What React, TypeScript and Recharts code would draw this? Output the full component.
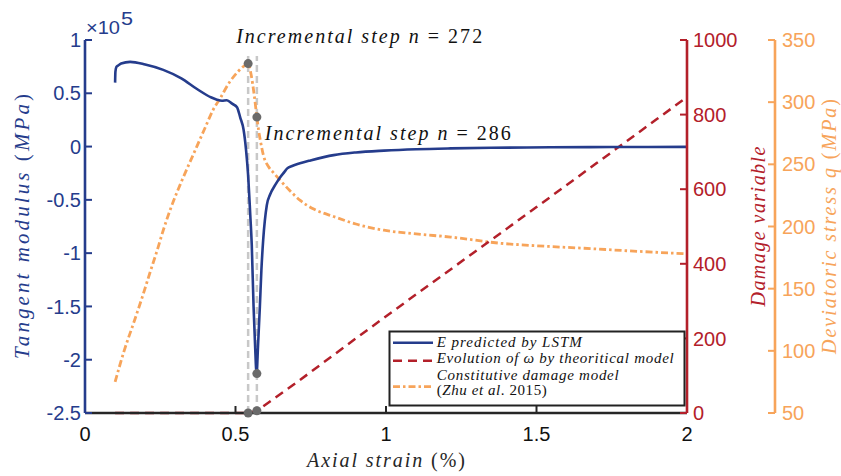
import React from "react";
import { ComposedChart, Line, XAxis, YAxis, ReferenceLine, ReferenceDot } from "recharts";

// Tangent modulus predicted by LSTM (x10^5 MPa)
const strainE = [
  0.1, 0.101, 0.104, 0.11, 0.12, 0.15, 0.2, 0.26, 0.32, 0.372, 0.42, 0.438, 0.455, 0.471, 0.49,
  0.505, 0.516, 0.527, 0.535, 0.542, 0.549, 0.554, 0.56, 0.565, 0.57, 0.575, 0.581, 0.586, 0.592,
  0.604, 0.615, 0.632, 0.648, 0.662, 0.672, 0.688, 0.714, 0.749, 0.826, 0.9, 0.993, 1.1, 1.215,
  1.35, 1.547, 1.75, 2.0,
];
const modulusE = [
  0.6, 0.7, 0.745, 0.76, 0.78, 0.795, 0.77, 0.72, 0.64, 0.54, 0.46, 0.44, 0.43, 0.435, 0.4,
  0.37, 0.27, 0.156, -0.03, -0.27, -0.64, -0.92, -1.5, -1.86, -2.13, -1.86, -1.5, -1.16, -0.876,
  -0.55, -0.45, -0.36, -0.29, -0.24, -0.205, -0.182, -0.157, -0.13, -0.08, -0.055, -0.038, -0.025,
  -0.017, -0.011, -0.007, -0.004, -0.003,
];

// Constitutive damage model (deviatoric stress, MPa)
const strainQ = [
  0.1, 0.13, 0.161, 0.19, 0.216, 0.24, 0.26, 0.29, 0.322, 0.36, 0.4, 0.426, 0.449, 0.48, 0.51,
  0.528, 0.542, 0.552, 0.562, 0.571, 0.577, 0.582, 0.593, 0.61, 0.627, 0.649, 0.68, 0.715, 0.76,
  0.826, 0.9, 0.993, 1.1, 1.215, 1.381, 1.5, 1.658, 1.8, 2.0,
];
const stressQ = [
  75, 100, 122, 143, 163, 181, 197, 218, 237, 258, 280, 294, 303, 316, 325,
  329, 331, 322, 306, 288, 277, 270, 257, 248, 243, 237, 229, 221, 214,
  208, 202, 197, 194, 191.5, 186.5, 184.5, 182.5, 180.5, 178,
];

// Evolution of omega by theoretical model
const strainD = [0.1, 0.542, 0.571, 0.7, 0.9, 1.1, 1.3, 1.5, 1.7, 1.9, 2.0];
const damageD = [0, 0, 6, 80, 200, 318, 435, 552, 670, 788, 847];

const xTicks = [0, 0.5, 1, 1.5, 2];
const eTicks = [-2.5, -2, -1.5, -1, -0.5, 0, 0.5, 1];
const dTicks = [0, 200, 400, 600, 800, 1000];
const qTicks = [50, 100, 150, 200, 250, 300, 350];

// incremental steps n = 272 and n = 286
const stepN = [272, 286];
const stepStrain = [0.542, 0.571];
const stepStress = [331, 288];
const stepDamage = [0, 6];
const minModulus = -2.13;

const eData = strainE.map((x, i) => ({ x, e: modulusE[i] }));
const qData = strainQ.map((x, i) => ({ x, q: stressQ[i] }));
const dData = strainD.map((x, i) => ({ x, d: damageD[i] }));

const SANS = "'Liberation Sans', Arial, sans-serif";
const SERIF = "'Liberation Serif', 'Times New Roman', serif";
const BLUE = "#253C8C";
const RED = "#B3202A";
const ORANGE = "#F7A45A";
const BLACK = "#262626";
const GRAY_LINE = "#C8C8C8";
const GRAY_DOT = "#6A6A6A";

type Part = [string, boolean];

function MathText(props: {
  x: number;
  y: number;
  parts: Part[];
  length: number;
  size: number;
  fill: string;
  anchor?: "start" | "middle" | "end";
  rotate?: boolean;
}) {
  const { x, y, parts, length, size, fill, anchor = "start", rotate } = props;
  return (
    <text
      x={x}
      y={y}
      fill={fill}
      fontFamily={SERIF}
      fontSize={size}
      textAnchor={anchor}
      textLength={length}
      lengthAdjust="spacing"
      transform={rotate ? `rotate(-90 ${x} ${y})` : undefined}
    >
      {parts.map(([t, it], i) => (
        <tspan key={i} fontStyle={it ? "italic" : "normal"}>
          {t}
        </tspan>
      ))}
    </text>
  );
}

const leftTitle = (p: any) => {
  const vb = p.viewBox;
  return (
    <g>
      <MathText
        x={vb.x + 29}
        y={vb.y + vb.height / 2}
        anchor="middle"
        rotate
        size={21}
        length={265}
        fill={BLUE}
        parts={[["Tangent modulus ", true], ["(", false], ["MPa", true], [")", false]]}
      />
      <text
        x={vb.x + vb.width + 1}
        y={vb.y - 6}
        fill={BLUE}
        fontFamily={SANS}
        fontSize={19}
        textLength={34}
        lengthAdjust="spacingAndGlyphs"
      >
        ×10
      </text>
      <text
        x={vb.x + vb.width + 36}
        y={vb.y - 15}
        fill={BLUE}
        fontFamily={SANS}
        fontSize={18}
        textLength={12}
        lengthAdjust="spacingAndGlyphs"
      >
        5
      </text>
    </g>
  );
};

const damageTitle = (p: any) => {
  const vb = p.viewBox;
  return (
    <MathText
      x={vb.x + 78}
      y={vb.y + vb.height / 2}
      anchor="middle"
      rotate
      size={20}
      length={160}
      fill={RED}
      parts={[["Damage variable", true]]}
    />
  );
};

const stressTitle = (p: any) => {
  const vb = p.viewBox;
  return (
    <MathText
      x={vb.x + 61}
      y={vb.y + vb.height / 2}
      anchor="middle"
      rotate
      size={20}
      length={255}
      fill={ORANGE}
      parts={[["Deviatoric stress q ", true], ["(", false], ["MPa", true], [")", false]]}
    />
  );
};

const xTitle = (p: any) => {
  const vb = p.viewBox;
  return (
    <MathText
      x={vb.x + vb.width / 2}
      y={vb.y + 54}
      anchor="middle"
      size={20}
      length={158}
      fill={BLACK}
      parts={[["Axial strain ", true], ["(%)", false]]}
    />
  );
};

const stepLabel = (n: number, dx: number, dy: number) => (p: any) => {
  const vb = p.viewBox;
  const cx = vb.x + vb.width / 2;
  const cy = vb.y + vb.height / 2;
  return (
    <MathText
      x={cx + dx}
      y={cy + dy}
      size={20}
      length={246}
      fill="#111"
      parts={[["Incremental step n", true], [` = ${n}`, false]]}
    />
  );
};

function LegendBox() {
  const txt = { fontFamily: SERIF, fontSize: 15, fontStyle: "italic" as const, fill: "#111" };
  return (
    <svg width={300} height={80} style={{ position: "absolute", left: 388, top: 330 }}>
      <rect x={1.5} y={1.5} width={295} height={74} fill="#fff" stroke="#222" strokeWidth={2} />
      <line x1={5} x2={45} y1={12.7} y2={12.7} stroke={BLUE} strokeWidth={2.6} />
      <line x1={5} x2={45} y1={30.7} y2={30.7} stroke={RED} strokeWidth={2.5} strokeDasharray="9 6" />
      <line x1={5} x2={45} y1={56.7} y2={56.7} stroke={ORANGE} strokeWidth={2.8} strokeDasharray="7 3 2.5 3" />
      <text x={48.7} y={16.7} textLength={145} lengthAdjust="spacing" {...txt}>
        E predicted by LSTM
      </text>
      <text x={48.7} y={33.3} textLength={237} lengthAdjust="spacing" {...txt}>
        Evolution of ω by theoritical model
      </text>
      <text x={48.7} y={50} textLength={182} lengthAdjust="spacing" {...txt}>
        Constitutive damage model
      </text>
      <text x={48.7} y={65} textLength={110} lengthAdjust="spacing" {...txt}>
        <tspan fontStyle="normal">(</tspan>Zhu et al<tspan fontStyle="normal">. 2015)</tspan>
      </text>
    </svg>
  );
}

export default function App() {
  return (
    <div style={{ position: "absolute", left: 0, top: 0, width: 841, height: 476, background: "#fff" }}>
      <ComposedChart width={841} height={476} margin={{ top: 40, right: 0, bottom: 0, left: 0 }}>
        <XAxis
          type="number"
          dataKey="x"
          domain={[0, 2]}
          ticks={xTicks}
          height={63}
          axisLine={{ stroke: BLACK, strokeWidth: 2.6 }}
          tickLine={{ stroke: BLACK, strokeWidth: 2 }}
          tickSize={-7}
          tickMargin={21}
          tick={{ fill: "#111", fontSize: 20, fontFamily: SANS }}
          label={xTitle}
        />
        <YAxis
          yAxisId="E"
          domain={[-2.5, 1]}
          ticks={eTicks}
          width={85}
          axisLine={{ stroke: BLUE, strokeWidth: 2.6 }}
          tickLine={{ stroke: BLUE, strokeWidth: 2 }}
          tickSize={-7}
          tickMargin={11}
          tick={{ fill: BLUE, fontSize: 20, fontFamily: SANS }}
          label={leftTitle}
        />
        <YAxis
          yAxisId="D"
          orientation="right"
          domain={[0, 1000]}
          ticks={dTicks}
          width={88}
          axisLine={{ stroke: RED, strokeWidth: 2.6 }}
          tickLine={{ stroke: RED, strokeWidth: 2 }}
          tickSize={-7}
          tickMargin={13}
          tick={{ fill: RED, fontSize: 20, fontFamily: SANS }}
          label={damageTitle}
        />
        <YAxis
          yAxisId="Q"
          orientation="right"
          domain={[50, 350]}
          ticks={qTicks}
          width={66}
          axisLine={{ stroke: ORANGE, strokeWidth: 2.6 }}
          tickLine={{ stroke: ORANGE, strokeWidth: 2 }}
          tickSize={-7}
          tickMargin={14}
          tick={{ fill: ORANGE, fontSize: 20, fontFamily: SANS }}
          label={stressTitle}
        />
        {stepStrain.map((s) => (
          <ReferenceLine
            key={s}
            yAxisId="E"
            segment={[
              { x: s, y: -2.5 },
              { x: s, y: 0.85 },
            ]}
            stroke={GRAY_LINE}
            strokeWidth={2.5}
            strokeDasharray="7 4"
          />
        ))}
        <Line
          data={qData}
          yAxisId="Q"
          dataKey="q"
          type="monotone"
          stroke={ORANGE}
          strokeWidth={2.8}
          strokeDasharray="7 3 2.5 3"
          dot={false}
          isAnimationActive={false}
        />
        <Line
          data={dData}
          yAxisId="D"
          dataKey="d"
          type="linear"
          stroke={RED}
          strokeWidth={2.5}
          strokeDasharray="9 6"
          dot={false}
          isAnimationActive={false}
        />
        <Line
          data={eData}
          yAxisId="E"
          dataKey="e"
          type="monotone"
          stroke={BLUE}
          strokeWidth={2.6}
          dot={false}
          isAnimationActive={false}
        />
        <ReferenceDot
          yAxisId="Q"
          x={stepStrain[0]}
          y={stepStress[0]}
          r={4.5}
          fill={GRAY_DOT}
          stroke="none"
          label={stepLabel(stepN[0], -12, -20.5)}
        />
        <ReferenceDot
          yAxisId="Q"
          x={stepStrain[1]}
          y={stepStress[1]}
          r={4.5}
          fill={GRAY_DOT}
          stroke="none"
          label={stepLabel(stepN[1], 8, 23)}
        />
        <ReferenceDot yAxisId="E" x={stepStrain[1]} y={minModulus} r={4.5} fill={GRAY_DOT} stroke="none" />
        {stepStrain.map((s, i) => (
          <ReferenceDot key={s} yAxisId="D" x={s} y={stepDamage[i]} r={4.5} fill={GRAY_DOT} stroke="none" />
        ))}
      </ComposedChart>
      <LegendBox />
    </div>
  );
}
